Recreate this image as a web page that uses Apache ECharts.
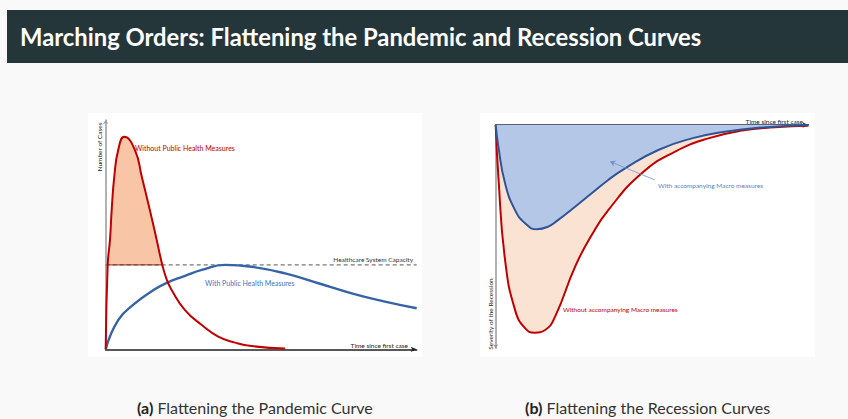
<!DOCTYPE html>
<html>
<head>
<meta charset="utf-8">
<script src="https://cdn.jsdelivr.net/npm/echarts@6/dist/echarts.min.js"></script>
<style>
  html, body { margin: 0; padding: 0; background: #f9f9f9; }
  #chart { width: 848px; height: 419px; }
</style>
</head>
<body>
<div id="chart"></div>
<script>
// (a) pandemic curve, x = time (0-100), y = cases (0-100)
const CAPACITY = 36.8
const withoutMeasures = [
  [0, 0], [0.64, 36.8], [1.38, 47.8], [1.93, 60.9], [2.77, 75.4], [4.05, 87.1],
  [5.98, 92.7], [9.4, 86.9], [11.6, 75.3], [14.2, 60.7], [16.4, 47.7], [18.2, 36.8],
  [19.6, 30.5], [21.2, 25.9], [25.5, 17.1], [30.9, 10.6], [36.2, 5.5], [41.6, 2.9],
  [46.9, 1.4], [57.7, 0.3]
]
const withMeasures = [
  [0, 0], [4.07, 12.8], [9.4, 20.0], [14.8, 25.3], [19.6, 29.0], [25.5, 32.0],
  [30.9, 34.6], [38.4, 36.8], [46.9, 36.0], [57.7, 33.1], [68.4, 28.8], [79.1, 24.4],
  [89.8, 20.8], [100, 17.9]
]

// (b) recession curves, x = time (0-100), y = severity (0 to -100)
const withoutMacro = [
  [0, 0], [0.85, -23.1], [2.99, -60.4], [6.18, -82.8], [9.38, -91.0], [12.4, -93.0],
  [15.8, -91.8], [19.0, -85.8], [25.4, -63.4], [30.7, -49.3], [36.0, -38.1],
  [46.7, -21.6], [57.4, -11.9], [68.0, -6.0], [78.7, -2.5], [89.3, -1.0], [100, -0.3]
]
const withMacro = [
  [0, 0], [0.85, -9.7], [2.99, -26.1], [6.18, -38.1], [9.38, -44.0], [13.1, -46.7],
  [16.8, -45.5], [20.0, -42.5], [25.4, -36.6], [30.7, -30.6], [36.0, -24.6],
  [41.4, -19.4], [52.0, -11.2], [62.7, -6.0], [73.3, -3.0], [84.0, -1.2], [100, 0]
]
const macroArrow = [[50.9, -24.6], [36.6, -16.4]]

const RED = '#c00000'
const BLUE = '#2f5597'
const FONT = 'Lato'
const SMOOTH = 0.5

let chart = echarts.init(document.getElementById('chart'), null, { renderer: 'svg' })

function plainAxis (extra) {
  return Object.assign({
    type: 'value',
    axisLabel: { show: false },
    axisTick: { show: false },
    splitLine: { show: false }
  }, extra)
}

// small annotation text
function note (x, y, text, color, extra) {
  return Object.assign({
    type: 'text',
    x: x,
    y: y,
    z: 50,
    style: Object.assign({
      text: text,
      fill: color,
      font: '6.5px ' + FONT,
      textVerticalAlign: 'middle'
    }, extra && extra.style)
  }, extra && extra.rotation ? { rotation: extra.rotation } : {})
}

let option = {
  backgroundColor: '#f9f9f9',
  animation: false,
  grid: [
    { left: 105.7, top: 120, width: 311, height: 229.3 },
    { left: 495.7, top: 125, width: 312.7, height: 223.3 }
  ],
  xAxis: [
    plainAxis({
      gridIndex: 0, min: 0, max: 100,
      axisLine: { lineStyle: { color: '#222', width: 1.5 }, symbol: ['none', 'arrow'], symbolSize: [4, 6] }
    }),
    plainAxis({
      gridIndex: 1, min: 0, max: 100,
      axisLine: { lineStyle: { color: '#1f2d4d', width: 1.5 }, symbol: ['none', 'arrow'], symbolSize: [4, 6] }
    })
  ],
  yAxis: [
    plainAxis({
      gridIndex: 0, min: 0, max: 100,
      axisLine: { lineStyle: { color: '#999', width: 1.5 }, symbol: ['none', 'arrow'], symbolSize: [4, 4] }
    }),
    plainAxis({
      gridIndex: 1, min: -100, max: 0,
      axisLine: { lineStyle: { color: '#999', width: 1.5 }, symbol: ['arrow', 'none'], symbolSize: [4, 4] }
    })
  ],
  series: [
    // excess over capacity
    {
      type: 'line', xAxisIndex: 0, yAxisIndex: 0, z: 1,
      data: withoutMeasures.filter(p => p[1] >= CAPACITY),
      smooth: SMOOTH, showSymbol: false,
      lineStyle: { width: 0 },
      areaStyle: { color: '#f8c6a6', opacity: 1, origin: CAPACITY }
    },
    {
      type: 'line', xAxisIndex: 0, yAxisIndex: 0, z: 2,
      data: [[0, CAPACITY], [100, CAPACITY]],
      showSymbol: false,
      lineStyle: { color: '#555', width: 1, type: [4, 3] }
    },
    {
      type: 'line', xAxisIndex: 0, yAxisIndex: 0, z: 3,
      data: withoutMeasures.filter(p => p[1] === CAPACITY),
      showSymbol: false,
      lineStyle: { color: '#8b2a20', width: 1 }
    },
    {
      type: 'line', xAxisIndex: 0, yAxisIndex: 0, z: 4,
      data: withMeasures,
      smooth: SMOOTH, showSymbol: false,
      lineStyle: { color: '#3563a6', width: 2.4 }
    },
    {
      type: 'line', xAxisIndex: 0, yAxisIndex: 0, z: 5,
      data: withoutMeasures,
      smooth: SMOOTH, showSymbol: false,
      lineStyle: { color: RED, width: 2 }
    },
    // recession
    {
      type: 'line', xAxisIndex: 1, yAxisIndex: 1, z: 1,
      data: withoutMacro,
      smooth: SMOOTH, showSymbol: false,
      lineStyle: { color: RED, width: 2 },
      areaStyle: { color: '#fbe3d4', opacity: 1 }
    },
    {
      type: 'line', xAxisIndex: 1, yAxisIndex: 1, z: 2,
      data: withMacro,
      smooth: SMOOTH, showSymbol: false,
      lineStyle: { color: BLUE, width: 2 },
      areaStyle: { color: '#b4c7e7', opacity: 1 },
      markLine: {
        silent: true,
        symbol: ['none', 'arrow'],
        symbolSize: 5,
        label: { show: false },
        lineStyle: { color: '#6f93c9', width: 0.8, type: 'solid' },
        data: [[{ coord: macroArrow[0] }, { coord: macroArrow[1] }]]
      }
    }
  ],
  graphic: [
    { type: 'rect', z: -10, shape: { x: 7, y: 10, width: 841, height: 53 }, style: { fill: '#25363b' } },
    { type: 'rect', z: -10, shape: { x: 88, y: 113, width: 334, height: 244 }, style: { fill: '#ffffff' } },
    { type: 'rect', z: -10, shape: { x: 480, y: 113, width: 335, height: 244 }, style: { fill: '#ffffff' } },
    {
      type: 'text', x: 20, y: 37, z: 50,
      style: {
        text: 'Marching Orders: Flattening the Pandemic and Recession Curves',
        fill: '#ffffff', font: 'bold 23.8px ' + FONT, textVerticalAlign: 'middle'
      }
    },
    {
      type: 'text', x: 137, y: 407, z: 50,
      style: {
        text: '{b|(a)} Flattening the Pandemic Curve',
        fill: '#333', font: '16px ' + FONT, textVerticalAlign: 'middle',
        rich: { b: { fontWeight: 'bold', fontSize: 16, fontFamily: FONT, fill: '#222' } }
      }
    },
    {
      type: 'text', x: 525, y: 407, z: 50,
      style: {
        text: '{b|(b)} Flattening the Recession Curves',
        fill: '#333', font: '16px ' + FONT, textVerticalAlign: 'middle',
        rich: { b: { fontWeight: 'bold', fontSize: 16, fontFamily: FONT, fill: '#222' } }
      }
    },
    note(135, 148, 'Without Public Health Measures', RED, { style: { font: '7px ' + FONT } }),
    note(413, 259, 'Healthcare System Capacity', '#333', { style: { textAlign: 'right' } }),
    note(205, 283, 'With Public Health Measures', '#4472c4', { style: { font: '7px ' + FONT } }),
    note(408, 345, 'Time since first case', '#222', { style: { textAlign: 'right' } }),
    note(99.5, 147, 'Number of Cases', '#222', { rotation: Math.PI / 2, style: { textAlign: 'center' } }),
    note(803, 121.5, 'Time since first case', '#222', { style: { textAlign: 'right' } }),
    note(658, 185, 'With accompanying Macro measures', '#5b7fc4'),
    note(563, 309, 'Without accompanying Macro measures', RED),
    note(490, 314, 'Severity of the Recession', '#222', { rotation: Math.PI / 2, style: { textAlign: 'center' } })
  ]
}

chart.setOption(option)
</script>
</body>
</html>
